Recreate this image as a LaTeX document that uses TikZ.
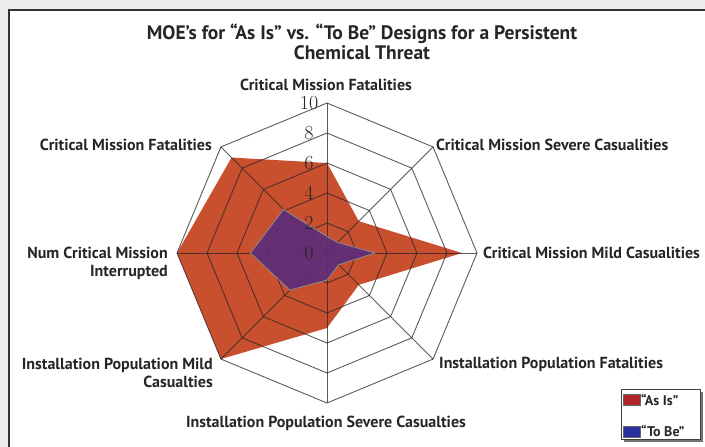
\documentclass[tikz,border=0pt]{standalone}
\usepackage{fontspec}
\setsansfont{PT Sans}
\definecolor{bggray}{HTML}{EDEDED}
\definecolor{asisred}{HTML}{C9502F}
\definecolor{tobepurple}{HTML}{5C2C7B}
\definecolor{legred}{HTML}{B0262A}
\definecolor{legblue}{HTML}{2B2F9E}
\begin{document}
\begin{tikzpicture}[x=1pt,y=-1pt,
  lbl/.style={font=\sffamily\bfseries\fontsize{16}{18}\selectfont, text=black!85, inner sep=0pt},
  ttl/.style={font=\sffamily\bfseries\fontsize{19.5}{20.5}\selectfont, text=black!85, inner sep=0pt, align=center},
  tick/.style={font=\fontsize{20}{20}\selectfont, text=black!85, inner sep=0pt},
  gridline/.style={draw=black!85, line width=0.9pt, line join=miter, opacity=0.75},
  asis/.style={fill=asisred},
  tobe/.style={fill=tobepurple, fill opacity=0.9, draw=black!45, line width=0.8pt},
  legtxt/.style={font=\sffamily\bfseries\fontsize{14}{14}\selectfont, text=black!85, inner sep=0pt, anchor=west},
]
\useasboundingbox (0,0) rectangle (705,447);
\fill[bggray] (0,0) rectangle (705,447);
\draw[fill=white, draw=black!80, line width=1.6pt] (9,10) rectangle (720,460);

% title
\node[ttl, anchor=north] (title) at (362,23.5) {MOE’s for “As Is” vs. “To Be” Designs for a Persistent\\Chemical Threat};

% radar
\begin{scope}[shift={(327,253)}, y=1pt]
  \fill[asis] (90:90) -- (45:45) -- (0:135) -- (-45:45) -- (-90:75) -- (-135:150) -- (180:150) -- (135:135) -- cycle;
  \foreach \r in {30,60,90,120,150}
    \draw[gridline] (90:\r) -- (45:\r) -- (0:\r) -- (-45:\r) -- (-90:\r) -- (-135:\r) -- (180:\r) -- (135:\r) -- cycle;
  \foreach \a in {0,45,...,315}
    \draw[gridline] (0,0) -- (\a:150);
  \draw[tobe] (90:16.5) -- (45:15) -- (0:48) -- (-45:16.5) -- (-90:27) -- (-135:52.5) -- (180:76.5) -- (135:61.5) -- cycle;
\end{scope}

% scale numbers
\foreach \v/\yy in {0/253,2/223,4/193,6/163,8/133,10/103}
  \node[tick] (tick\v) at (309,\yy) {\v};

% axis labels
\node[lbl, anchor=base] (ax0) at (326,90.5) {Critical Mission Fatalities};
\node[lbl, anchor=base west] (ax1) at (436,150.5) {Critical Mission Severe Casualities};
\node[lbl, anchor=base west] (ax2) at (483,258.5) {Critical Mission Mild Casualities};
\node[lbl, anchor=base west] (ax3) at (439,368) {Installation Population Fatalities};
\node[lbl, anchor=base] (ax4) at (326,427.5) {Installation Population Severe Casualties};
\node[lbl, anchor=north east, align=right] (ax5) at (213,358) {Installation Population Mild\\Casualties};
\node[lbl, anchor=north east, align=right] (ax6) at (168,247) {Num Critical Mission\\Interrupted};
\node[lbl, anchor=base east] (ax7) at (212,150.5) {Critical Mission Fatalities};

% legend
\fill[black!55] (624,392) rectangle (703,442);
\draw[fill=white, draw=black!75, line width=1pt] (621,389) rectangle (700,439);
\draw[fill=legred, draw=black!60, line width=0.4pt] (623,394.5) rectangle (640,405.5);
\node[legtxt] (leg1) at (641,400) {“As Is”};
\draw[fill=legblue, draw=black!60, line width=0.4pt] (623,426) rectangle (640,437);
\node[legtxt] (leg2) at (641,431.5) {“To Be”};
\end{tikzpicture}
\end{document}
